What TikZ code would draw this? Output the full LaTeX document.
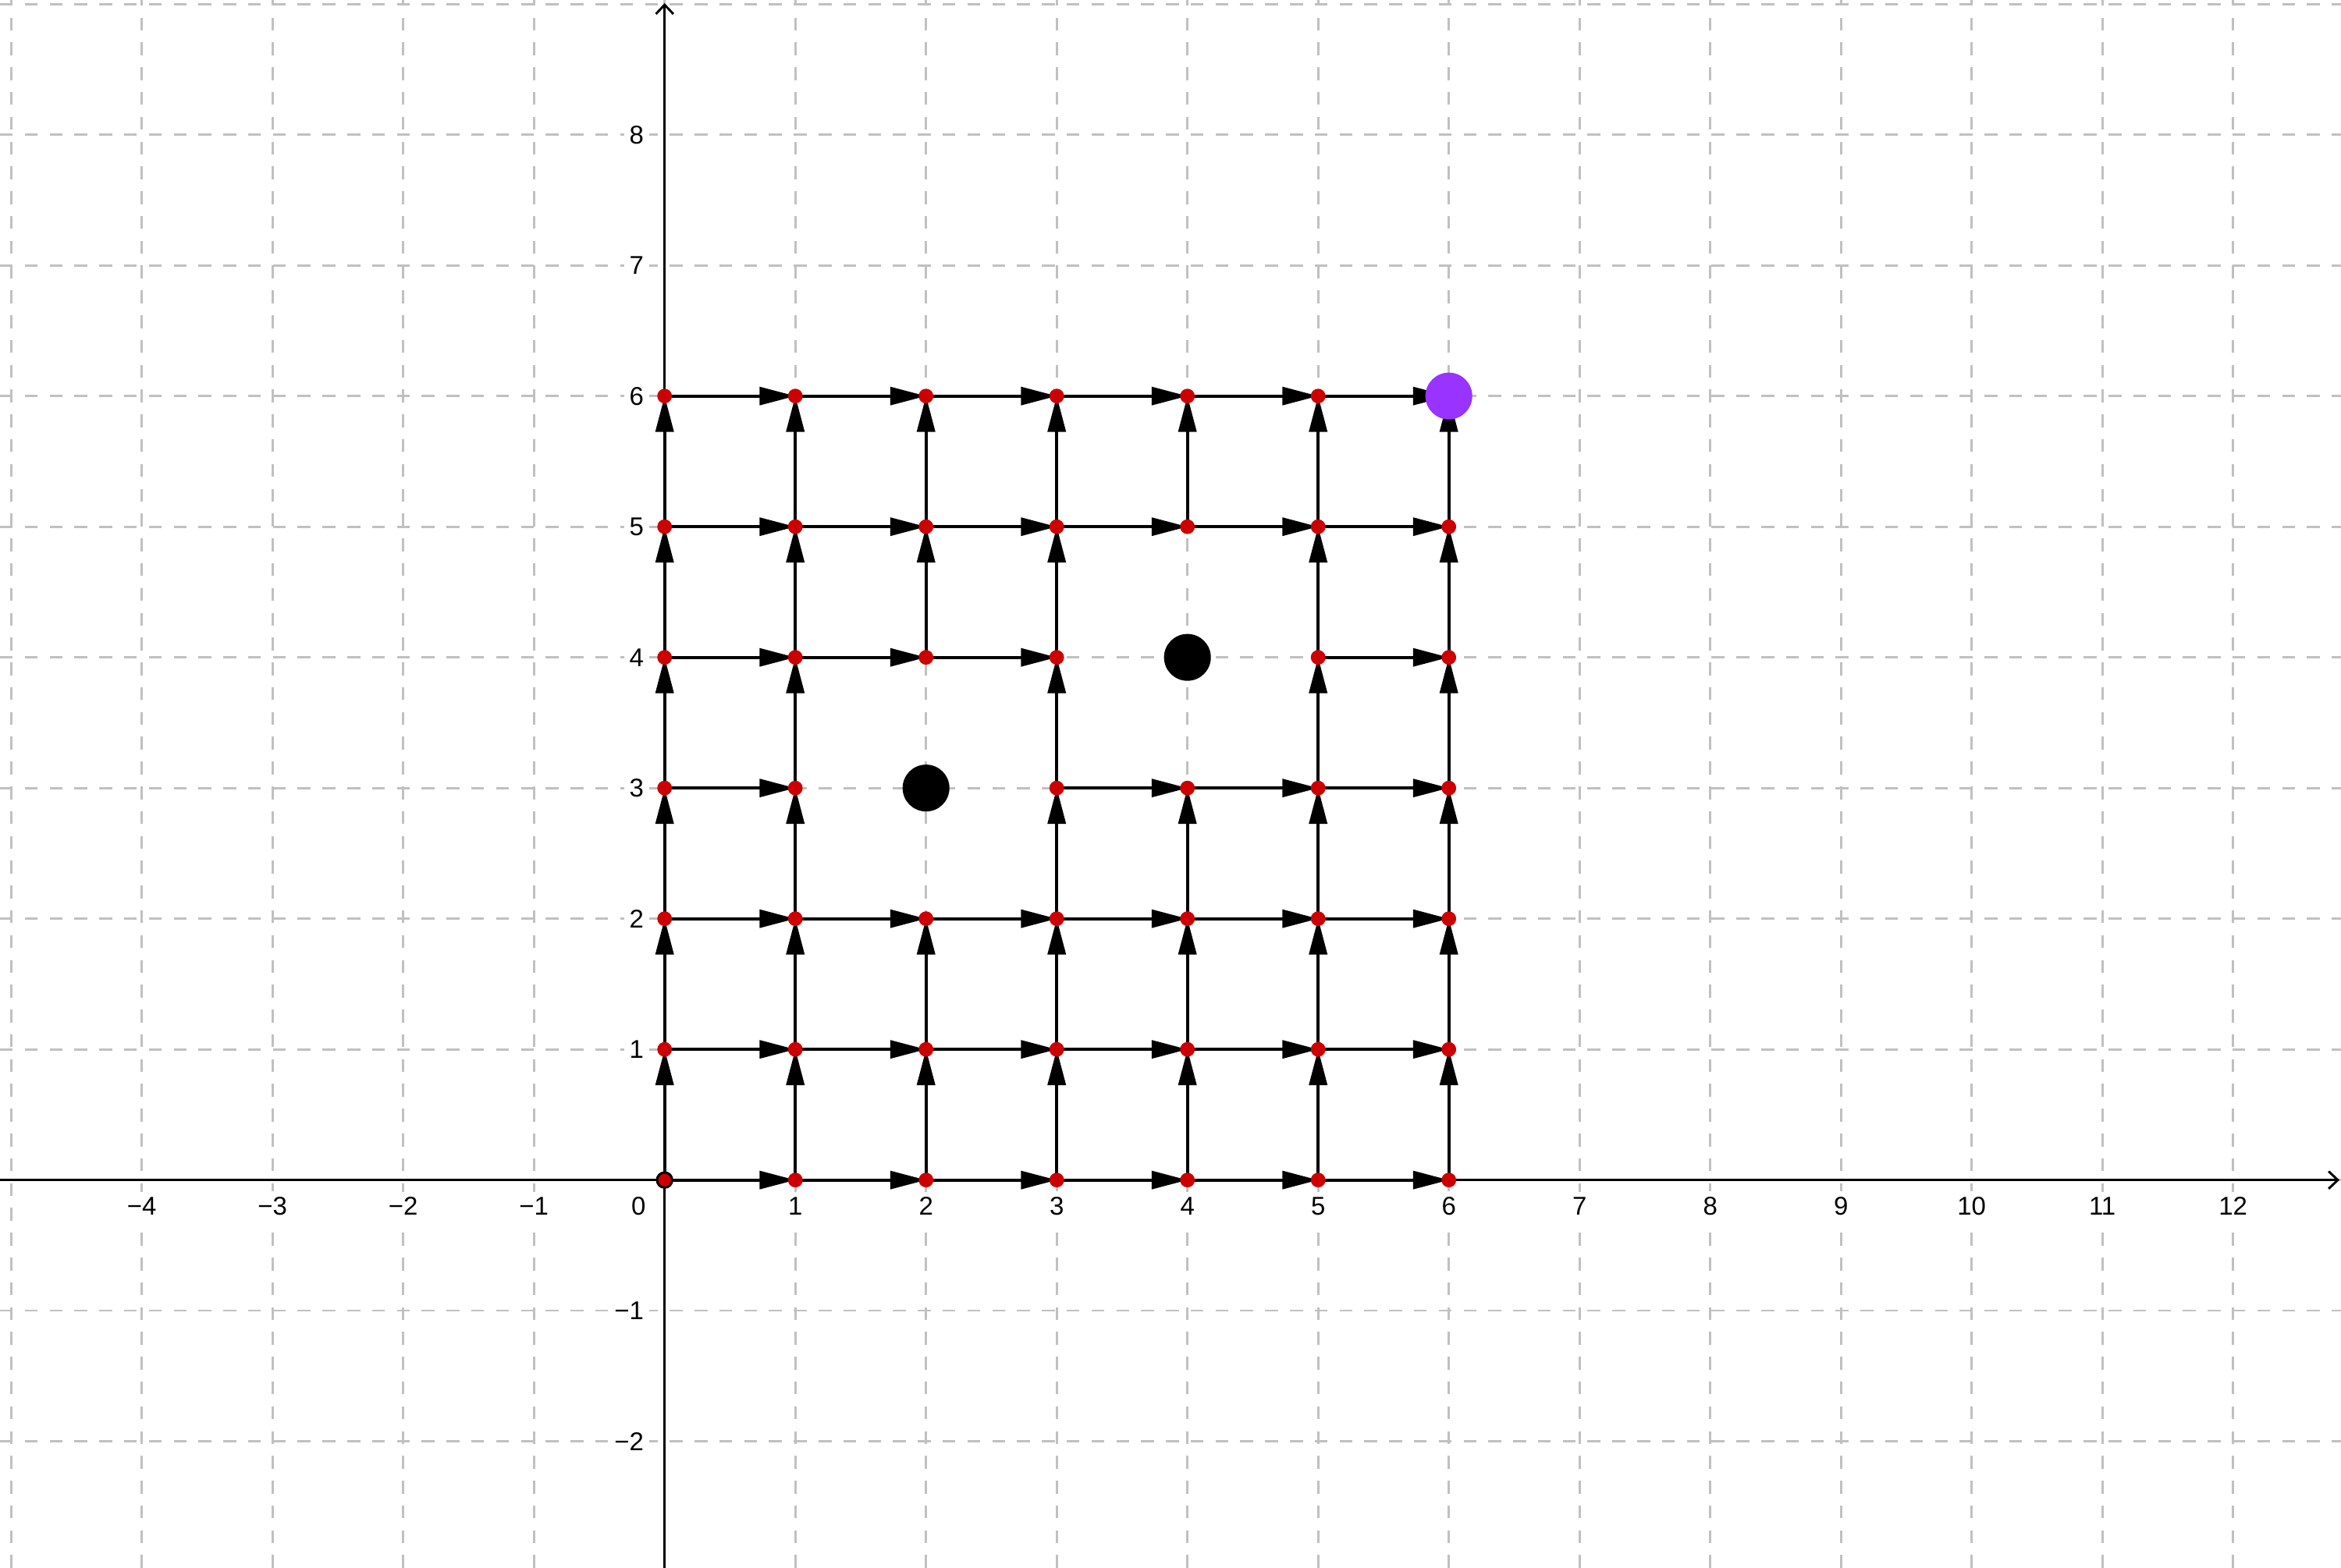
\documentclass[tikz,border=0pt]{standalone}
\usepackage{fontspec}
\setmainfont{Liberation Sans}
\usetikzlibrary{arrows.meta}
\definecolor{gridgray}{HTML}{C0C0C0}
\definecolor{ptred}{HTML}{CC0000}
\definecolor{goalpurple}{HTML}{9933FF}
\newcommand{\axnum}[1]{\ifnum#1<0 −\number-#1\else#1\fi}
\tikzset{
	gridline/.style={gridgray,line width=0.45pt,dash pattern=on 2.8pt off 2.6pt},
	axisline/.style={line width=0.5pt,-{Straight Barb[length=2pt,width=3.8pt]}},
	vec/.style={line width=0.65pt,-{Triangle[length=7.8pt,width=3.9pt]}},
	ptdot/.style={circle,fill=ptred,inner sep=0pt,minimum size=3.2pt},
	bigdot/.style={circle,fill=black,inner sep=0pt,minimum size=10.2pt},
	ticklab/.style={fill=white,inner sep=1.2pt,font=\fontsize{5.6}{6.6}\selectfont}
}
\begin{document}
\begin{tikzpicture}
	\useasboundingbox (-5.085,-2.969) rectangle (12.826,9.031);
	\draw[gridline] (-5.085,-2.969) grid (12.826,9.031);
	\coordinate (xmin) at (-5.085,0);
	\coordinate (xmax) at (12.814,0);
	\coordinate (ymin) at (0,-2.969);
	\coordinate (ymax) at (0,9.007);
	\draw[axisline] (xmin) -- (xmax);
	\draw[axisline] (ymin) -- (ymax);
	\foreach \x in {-4,...,12}{
		\ifnum\x=0\else
			\node[ticklab] (xl\x) at (\x,-0.2) {\axnum{\x}};
		\fi}
	\foreach \y in {-2,...,8}{
		\ifnum\y=0\else
			\node[ticklab,anchor=east] (yl\y) at (-0.11,\y) {\axnum{\y}};
		\fi}
	\node[ticklab] (zero) at (-0.2,-0.2) {0};
	\foreach \i in {0,...,6}{
		\foreach \j in {0,...,6}{
			\coordinate (p\i\j) at (\i,\j);
		}}
	\foreach \i [evaluate=\i as \k using int(\i+1)] in {0,...,5}{
		\foreach \j in {0,...,6}{
			\pgfmathtruncatemacro{\gone}{(\j==3&&(\i==1||\i==2))||(\j==4&&(\i==3||\i==4))}
			\ifnum\gone=0 \draw[vec] (p\i\j) -- (p\k\j);\fi
		}}
	\foreach \i in {0,...,6}{
		\foreach \j [evaluate=\j as \k using int(\j+1)] in {0,...,5}{
			\pgfmathtruncatemacro{\gone}{(\i==2&&(\j==2||\j==3))||(\i==4&&(\j==3||\j==4))}
			\ifnum\gone=0 \draw[vec] (p\i\j) -- (p\i\k);\fi
		}}
	\foreach \i in {0,...,6}{
		\foreach \j in {0,...,6}{
			\pgfmathtruncatemacro{\gone}{(\i==2&&\j==3)||(\i==4&&\j==4)||(\i==0&&\j==0)||(\i==6&&\j==6)}
			\ifnum\gone=0 \node[ptdot] (d\i\j) at (p\i\j) {};\fi
		}}
	\node[ptdot,draw=black,line width=0.5pt,minimum size=3.3pt] (start) at (p00) {};
	\node[bigdot] (rock) at (p23) {};
	\node[bigdot] (tree) at (p44) {};
	\node[bigdot,fill=goalpurple] (goal) at (p66) {};
\end{tikzpicture}
\end{document}
